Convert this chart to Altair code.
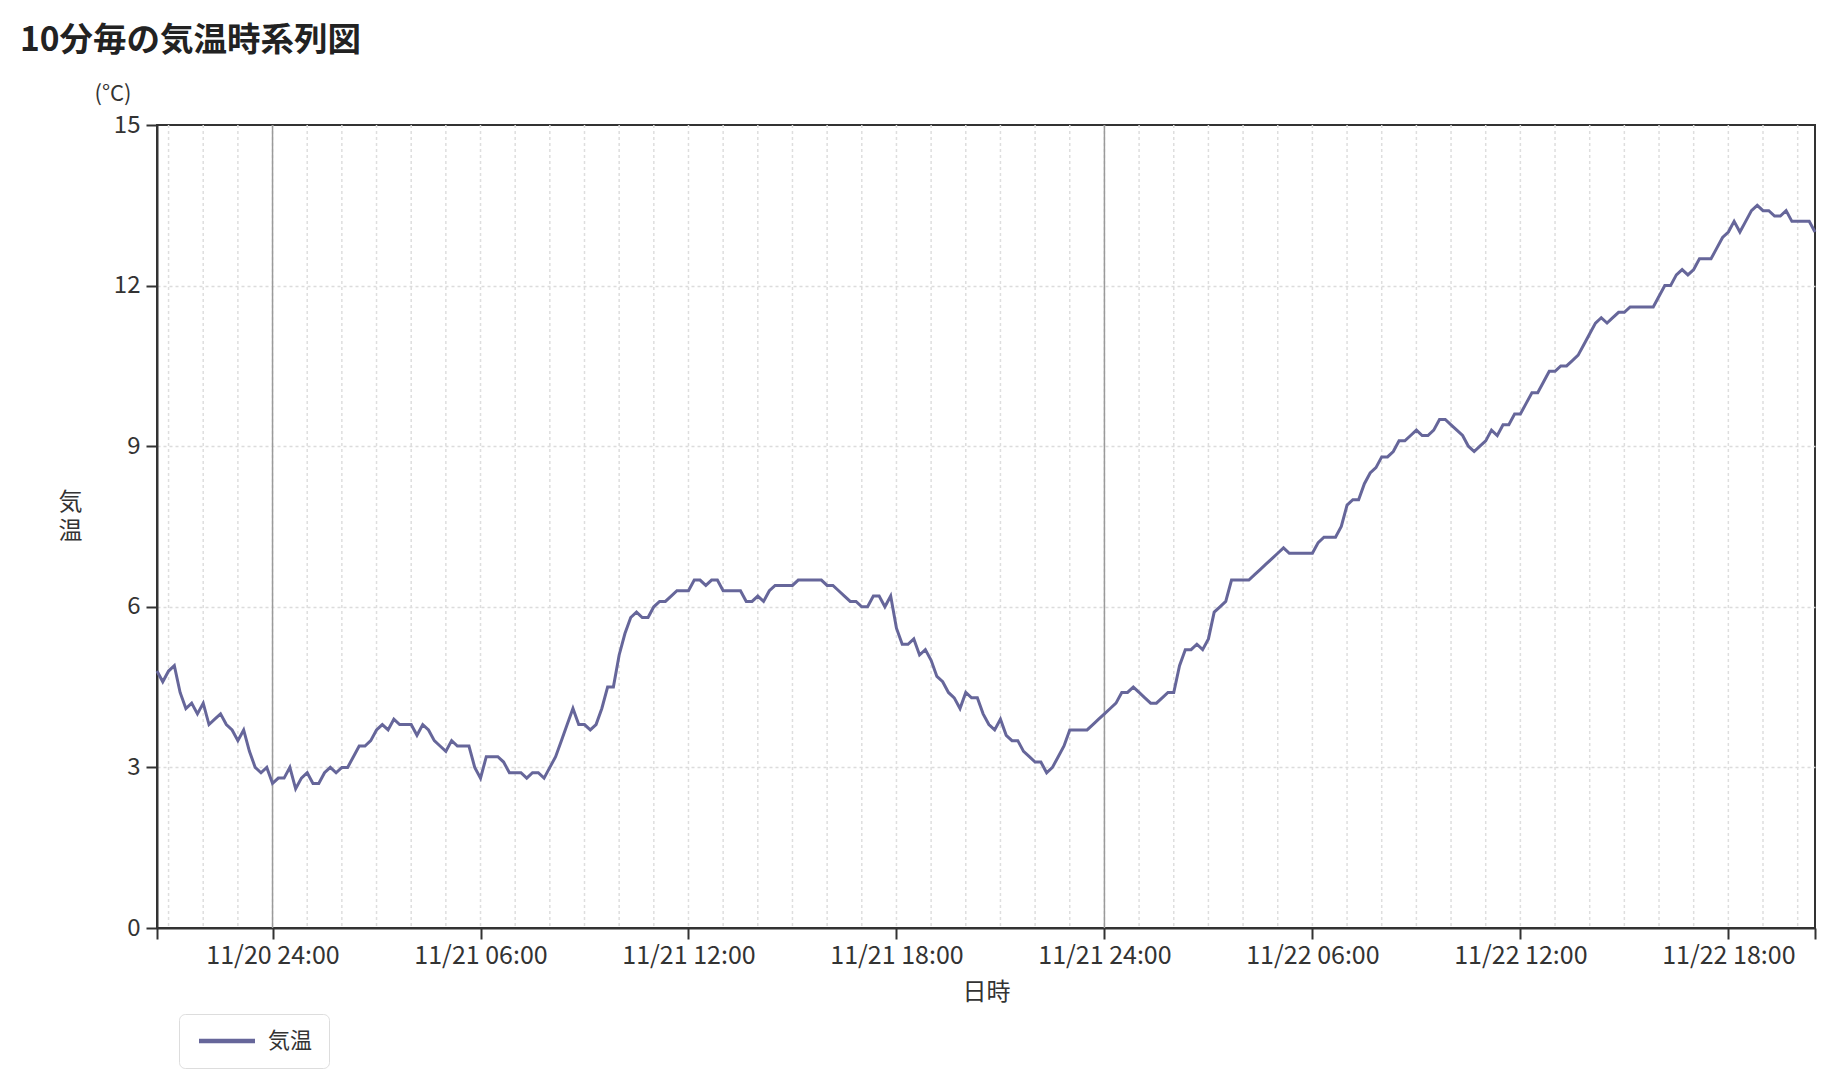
import altair as alt
import pandas as pd

FONT = "Noto Sans CJK JP"
TITLE = "10分毎の気温時系列図"
SERIES = "気温"
START = "2023-11-20 20:40"

# 10-minute temperatures (°C)
temps = [
    4.8, 4.6, 4.8, 4.9, 4.4, 4.1, 4.2, 4.0, 4.2, 3.8, 3.9, 4.0, 3.8, 3.7, 3.5, 3.7, 3.3, 3.0, 2.9, 3.0,
    2.7, 2.8, 2.8, 3.0, 2.6, 2.8, 2.9, 2.7, 2.7, 2.9, 3.0, 2.9, 3.0, 3.0, 3.2, 3.4, 3.4, 3.5, 3.7, 3.8,
    3.7, 3.9, 3.8, 3.8, 3.8, 3.6, 3.8, 3.7, 3.5, 3.4, 3.3, 3.5, 3.4, 3.4, 3.4, 3.0, 2.8, 3.2, 3.2, 3.2,
    3.1, 2.9, 2.9, 2.9, 2.8, 2.9, 2.9, 2.8, 3.0, 3.2, 3.5, 3.8, 4.1, 3.8, 3.8, 3.7, 3.8, 4.1, 4.5, 4.5,
    5.1, 5.5, 5.8, 5.9, 5.8, 5.8, 6.0, 6.1, 6.1, 6.2, 6.3, 6.3, 6.3, 6.5, 6.5, 6.4, 6.5, 6.5, 6.3, 6.3,
    6.3, 6.3, 6.1, 6.1, 6.2, 6.1, 6.3, 6.4, 6.4, 6.4, 6.4, 6.5, 6.5, 6.5, 6.5, 6.5, 6.4, 6.4, 6.3, 6.2,
    6.1, 6.1, 6.0, 6.0, 6.2, 6.2, 6.0, 6.2, 5.6, 5.3, 5.3, 5.4, 5.1, 5.2, 5.0, 4.7, 4.6, 4.4, 4.3, 4.1,
    4.4, 4.3, 4.3, 4.0, 3.8, 3.7, 3.9, 3.6, 3.5, 3.5, 3.3, 3.2, 3.1, 3.1, 2.9, 3.0, 3.2, 3.4, 3.7, 3.7,
    3.7, 3.7, 3.8, 3.9, 4.0, 4.1, 4.2, 4.4, 4.4, 4.5, 4.4, 4.3, 4.2, 4.2, 4.3, 4.4, 4.4, 4.9, 5.2, 5.2,
    5.3, 5.2, 5.4, 5.9, 6.0, 6.1, 6.5, 6.5, 6.5, 6.5, 6.6, 6.7, 6.8, 6.9, 7.0, 7.1, 7.0, 7.0, 7.0, 7.0,
    7.0, 7.2, 7.3, 7.3, 7.3, 7.5, 7.9, 8.0, 8.0, 8.3, 8.5, 8.6, 8.8, 8.8, 8.9, 9.1, 9.1, 9.2, 9.3, 9.2,
    9.2, 9.3, 9.5, 9.5, 9.4, 9.3, 9.2, 9.0, 8.9, 9.0, 9.1, 9.3, 9.2, 9.4, 9.4, 9.6, 9.6, 9.8, 10.0, 10.0,
    10.2, 10.4, 10.4, 10.5, 10.5, 10.6, 10.7, 10.9, 11.1, 11.3, 11.4, 11.3, 11.4, 11.5, 11.5, 11.6, 11.6, 11.6, 11.6, 11.6,
    11.8, 12.0, 12.0, 12.2, 12.3, 12.2, 12.3, 12.5, 12.5, 12.5, 12.7, 12.9, 13.0, 13.2, 13.0, 13.2, 13.4, 13.5, 13.4, 13.4,
    13.3, 13.3, 13.4, 13.2, 13.2, 13.2, 13.2, 13.0,
]

y_ticks = [0, 3, 6, 9, 12, 15]
midnights = ["2023-11-21T00:00:00", "2023-11-22T00:00:00"]
hour_grid_start = "2023-11-20 21:00"
hour_grid_end = "2023-11-22 20:00"

times = pd.date_range(START, periods=len(temps), freq="10min").strftime("%Y-%m-%dT%H:%M:%S")
df = pd.DataFrame({"time": list(times), "temp": temps, "series": SERIES})
hours_df = pd.DataFrame({"time": list(pd.date_range(hour_grid_start, hour_grid_end, freq="h").strftime("%Y-%m-%dT%H:%M:%S"))})
mid_df = pd.DataFrame({"time": midnights})

x_values = [
    alt.DateTime(year=2023, month=11, date=20, hours=20, minutes=40),
    alt.DateTime(year=2023, month=11, date=21, hours=0),
    alt.DateTime(year=2023, month=11, date=21, hours=6),
    alt.DateTime(year=2023, month=11, date=21, hours=12),
    alt.DateTime(year=2023, month=11, date=21, hours=18),
    alt.DateTime(year=2023, month=11, date=22, hours=0),
    alt.DateTime(year=2023, month=11, date=22, hours=6),
    alt.DateTime(year=2023, month=11, date=22, hours=12),
    alt.DateTime(year=2023, month=11, date=22, hours=18),
    alt.DateTime(year=2023, month=11, date=22, hours=20, minutes=30),
]

label_expr = (
    "minutes(datum.value) != 0 ? '' : (hours(datum.value) == 0 ? "
    "timeFormat(datum.value - 3600000, '%m/%d') + ' 24:00' : timeFormat(datum.value, '%m/%d %H:%M'))"
)

x_axis = alt.Axis(
    values=x_values, labelExpr=label_expr, grid=False,
    tickSize=11, tickColor="#333", tickWidth=2,
    domainColor="#333", domainWidth=2,
    labelFont=FONT, labelFontSize=25, labelColor="#333", labelPadding=4,
    labelOverlap=False, labelFlush=False,
    title="日時", titleFont=FONT, titleFontSize=24, titleFontWeight="normal",
    titleColor="#333", titleY=64, titleBaseline="middle",
)

edge_test = "datum.value === 15 || datum.value === 0"
y_axis = alt.Axis(
    values=y_ticks, grid=True, gridDash=[3, 3], gridColor="#dcdcdc", gridWidth=1.5,
    gridOpacity={"condition": {"test": edge_test, "value": 0}, "value": 1},
    tickSize=11, tickColor="#333", tickWidth=2,
    domainColor="#333", domainWidth=2,
    labelFont=FONT, labelFontSize=24, labelColor="#333", labelPadding=6,
    title=["気", "温"], titleAngle=0, titleFont=FONT, titleFontSize=24,
    titleFontWeight="normal", titleColor="#333",
    titleX=-87, titleY=377, titleAlign="center", titleBaseline="middle", titleLineHeight=29,
)

x_enc = alt.X("time:T", scale=alt.Scale(nice=False), axis=x_axis)

hour_rules = alt.Chart(hours_df).mark_rule(
    color="#dedede", strokeWidth=1.5, strokeDash=[3, 3]
).encode(x=alt.X("time:T"))

mid_rules = alt.Chart(mid_df).mark_rule(color="#9a9a9a", strokeWidth=1.5).encode(x=alt.X("time:T"))

line = alt.Chart(df).mark_line(strokeWidth=3).encode(
    x=x_enc,
    y=alt.Y("temp:Q", scale=alt.Scale(domain=[0, 15], nice=False), axis=y_axis),
    color=alt.Color(
        "series:N",
        scale=alt.Scale(range=["#66669a"]),
        legend=alt.Legend(
            title=None, orient="none", legendX=22, legendY=889,
            symbolType="M-1,0H7", symbolSize=196, symbolStrokeWidth=4.5,
            labelFont=FONT, labelFontSize=22, labelColor="#333", labelOffset=51,
            padding=16, strokeColor="#dddddd", fillColor="white", cornerRadius=6,
        ),
    ),
)

unit = alt.Chart(pd.DataFrame({"label": ["(°C)"]})).mark_text(
    font=FONT, fontSize=22, color="#333", align="center", baseline="middle"
).encode(x=alt.value(-44), y=alt.value(-31), text="label:N")

chart = alt.layer(hour_rules, mid_rules, line, unit).properties(
    width=1658,
    height=803,
    title=alt.TitleParams(
        TITLE, anchor="start", fontSize=33.5, font=FONT, fontWeight="bold",
        color="#222", dx=-38, offset=25,
    ),
    padding={"left": 149, "top": 117, "right": 12, "bottom": 144},
    autosize=alt.AutoSizeParams(type="none"),
).configure_view(stroke="#333", strokeWidth=2)

chart.save("out.html", embed_options={"renderer": "svg", "actions": False})
